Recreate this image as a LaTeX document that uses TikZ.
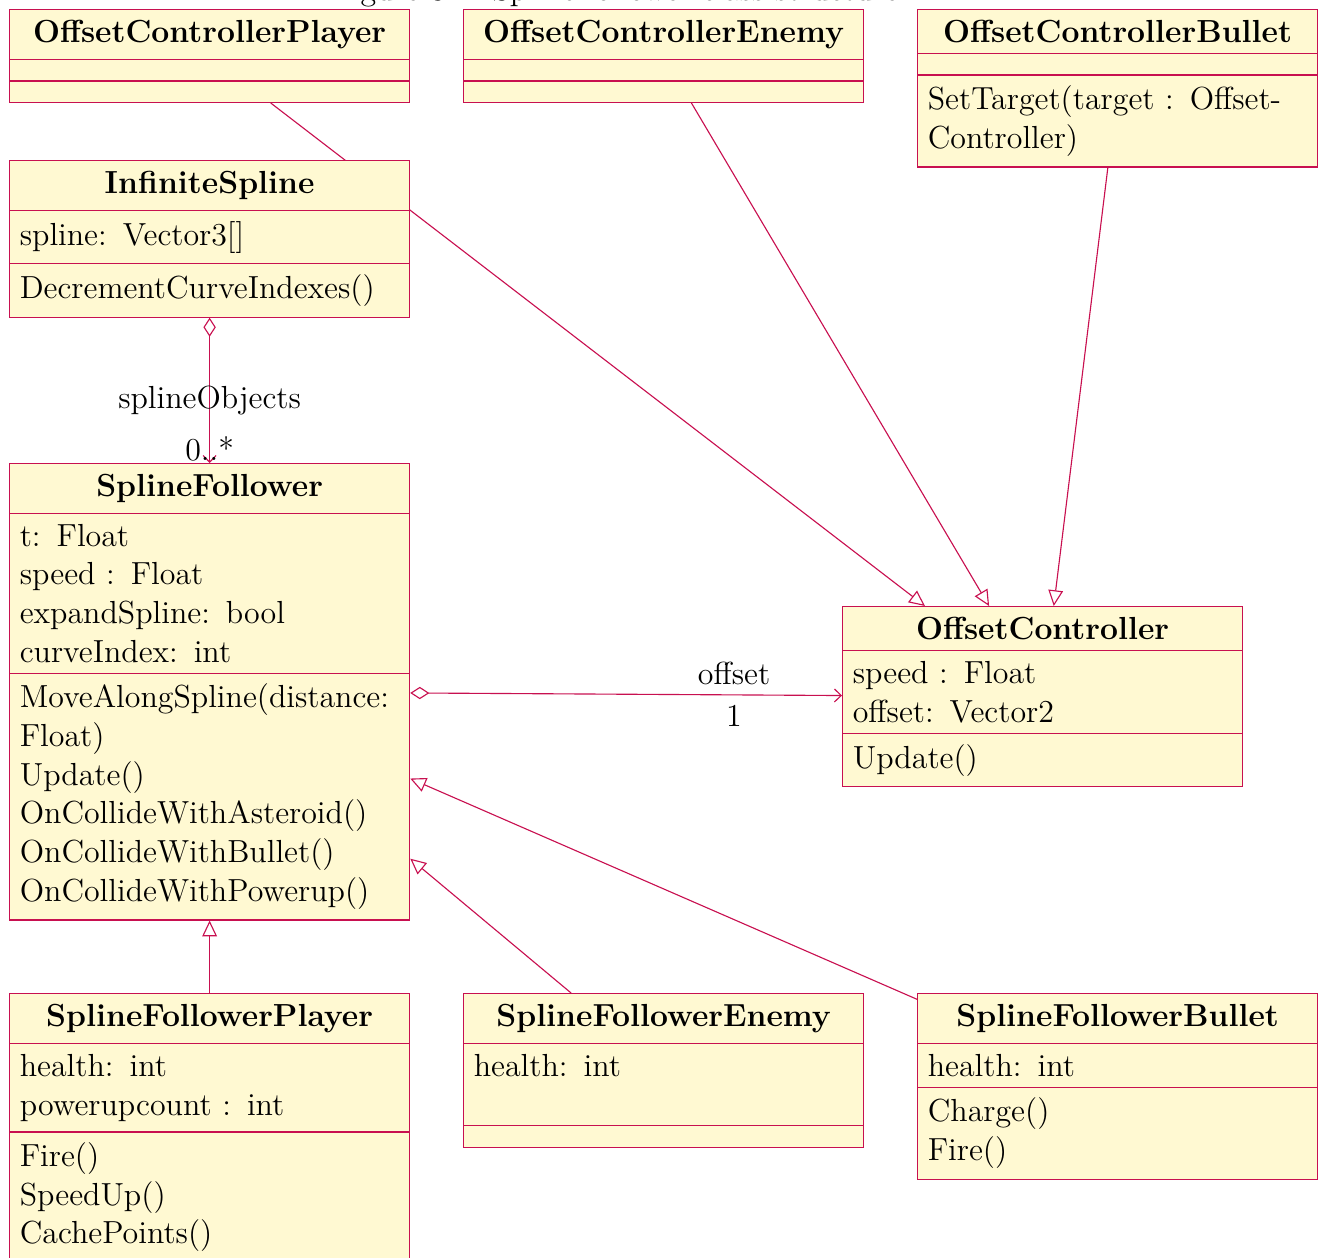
\documentclass[tikz,border=0pt]{standalone}
\usepackage{fontspec}
\usepackage{tikz}
\usetikzlibrary{shapes.multipart}
\usetikzlibrary{arrows.meta}
\definecolor{umldraw}{RGB}{200,16,80}
\definecolor{umlfill}{RGB}{255,249,210}
\newcommand{\umltitle}[1]{\makebox[\hsize][c]{\textbf{#1}}}

\begin{document}
\begin{tikzpicture}[x=0.0125cm,y=-0.0125cm,
  every node/.style={font=\fontsize{11.35}{13.75}\selectfont},
  umlclass/.style={rectangle split, rectangle split parts=3, anchor=north west,
    draw=umldraw, fill=umlfill, inner xsep=3.65pt, inner ysep=3.6pt,
    text width=5cm-7.3pt, align=left},
  inherit/.style={draw=umldraw, -{Triangle[open,length=5.6pt,width=5.2pt]}},
  aggreg/.style={draw=umldraw, {Diamond[open,length=6.8pt,width=4.4pt]}-{Straight Barb[length=2.4pt,width=4.6pt]}}]
  \useasboundingbox (0,0) rectangle (1321,1257);
  \node[anchor=base] (caption) at (615,1) {Figure 3.1: Spline follower class structure};

  % offset controllers
  \node[umlclass] (ocplayer) at (9,9) {\umltitle{OffsetControllerPlayer}\nodepart{two}\nodepart{three}};
  \node[umlclass] (ocenemy) at (463,9) {\umltitle{OffsetControllerEnemy}\nodepart{two}\nodepart{three}};
  \node[umlclass] (ocbullet) at (917,9) {\umltitle{OffsetControllerBullet}\nodepart{two}\nodepart{three}SetTarget(target : Offset-\\Controller)};
  \node[umlclass] (offsetctrl) at (842,606) {\umltitle{OffsetController}\nodepart{two}speed : Float\\offset: Vector2\nodepart{three}Update()};
  \draw[inherit] (ocplayer) -- (offsetctrl);
  \draw[inherit] (ocenemy) -- (offsetctrl);
  \draw[inherit] (ocbullet) -- (offsetctrl);

  % spline followers
  \node[umlclass] (infspline) at (9,160) {\umltitle{InfiniteSpline}\nodepart{two}spline: Vector3[]\nodepart{three}DecrementCurveIndexes()};
  \node[umlclass] (follower) at (9,463) {\umltitle{SplineFollower}\nodepart{two}t: Float\\speed : Float\\expandSpline: bool\\curveIndex: int\nodepart{three}MoveAlongSpline(distance:\\Float)\\Update()\\OnCollideWithAsteroid()\\OnCollideWithBullet()\\OnCollideWithPowerup()};
  \node[umlclass] (sfplayer) at (9,993) {\umltitle{SplineFollowerPlayer}\nodepart{two}health: int\\powerupcount : int\nodepart{three}Fire()\\SpeedUp()\\CachePoints()};
  \node[umlclass] (sfenemy) at (463,993) {\umltitle{SplineFollowerEnemy}\nodepart{two}health: int\\\mbox{}\nodepart{three}};
  \node[umlclass] (sfbullet) at (917,993) {\umltitle{SplineFollowerBullet}\nodepart{two}health: int\nodepart{three}Charge()\\Fire()};

  \draw[aggreg] (infspline) -- node[pos=0.57] {splineObjects} node[pos=1,anchor=south,inner sep=0.5pt] {0..*} (follower);
  \draw[aggreg] (follower) -- node[pos=0.75,above] {offset} node[pos=0.75,below] {1} (offsetctrl);
  \draw[inherit] (sfplayer) -- (follower);
  \draw[inherit] (sfenemy) -- (follower);
  \draw[inherit] (sfbullet) -- (follower);
\end{tikzpicture}
\end{document}
